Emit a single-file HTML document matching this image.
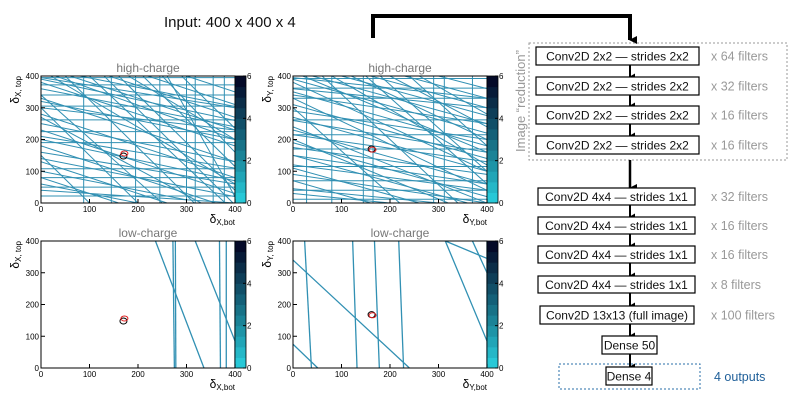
<!DOCTYPE html>
<html><head><meta charset="utf-8"><style>
html,body{margin:0;padding:0;background:#fff;}
svg{display:block;font-family:"Liberation Sans",Arial,sans-serif;}
</style></head><body>
<svg id="fig" width="806" height="403" viewBox="0 0 806 403">
<defs>
<marker id="ah" markerWidth="8" markerHeight="8" refX="4" refY="7" orient="auto" markerUnits="userSpaceOnUse">
<path d="M0,0 L8,0 L4,8 Z" fill="#000"/></marker>
<marker id="ahs" markerWidth="7" markerHeight="6" refX="3.5" refY="5" orient="auto" markerUnits="userSpaceOnUse">
<path d="M0,0 L7,0 L3.5,6 Z" fill="#000"/></marker>
</defs>
<g id="plots"></g>
<text x="164" y="27" font-size="15" fill="#111">Input: 400 x 400 x 4</text>
<path d="M373,38 L373,16 L630,16 L630,40" fill="none" stroke="#000" stroke-width="4" marker-end="url(#ah)"/>
<g id="net"></g>
</svg>
<script>
// ---- chart data (data coordinates, 0..400) ----
const tickLabels = [0,100,200,300,400];
const cbarTicks = [0,2,4,6];
const hcXHoriz = [395,372,340,305,262,225,190,108,80,50,22];
const hcXVert = [88,145,195,245,300,318,355,378];
const hcXDiag = [[0,380,400,180],[0,330,400,130],[0,280,400,80],[0,230,400,30],[0,180,360,0],[0,130,260,0],[0,80,160,0],[60,400,400,230],[140,400,400,270],[220,400,400,310],[300,400,400,350],[0,300,200,0],[50,400,316,0],[130,400,396,0],[210,400,400,115],[290,400,400,235],[0,150,100,0],[0,360,400,240],[0,250,400,130],[0,140,400,20],[80,400,400,304],[0,60,200,0],[20,400,400,60],[0,395,400,300],[100,400,380,0],[0,210,400,110],[250,400,400,160],[0,340,250,0],[0,320,400,200],[0,100,300,10],[30,400,400,200],[180,400,400,200],[0,270,330,0],[0,200,400,70],[0,40,400,0],[160,400,400,40],[0,390,400,260],[260,400,400,20],[0,160,400,60],[0,300,400,230]];
const hcYHoriz = [392,362,330,262,215,170,115,70,40,12];
const hcYVert = [28,80,145,165,290,312,370];
const hcYDiag = [[0,390,400,220],[0,350,400,180],[0,310,400,140],[0,270,400,100],[0,230,400,60],[0,190,400,20],[0,150,360,0],[0,110,260,0],[0,70,160,0],[40,400,400,250],[100,400,400,275],[160,400,400,300],[230,400,400,330],[300,400,400,360],[0,300,220,0],[60,400,340,0],[150,400,400,60],[240,400,400,180],[0,380,400,100],[0,240,400,0],[0,200,320,0],[0,330,400,40],[80,400,400,120],[0,120,400,40],[0,260,400,160],[120,400,400,200],[0,175,400,90],[0,45,300,0],[200,400,400,240],[0,360,400,300],[0,290,400,200],[0,90,400,0],[20,400,400,160],[0,340,400,250],[0,150,400,60],[260,400,400,280],[0,215,400,130],[180,400,400,100],[0,30,200,0],[0,395,400,330]];
const lcX = [[236,400,336,0],[272,400,275,0],[277,400,278,0],[368,400,370,0],[382,400,382,0],[318,400,400,85],[400,400,400,0]];
const lcY = [[24,400,38,0],[0,340,240,0],[0,75,51,0],[123,400,132,0],[168,400,178,0],[218,400,228,0],[314,400,400,85],[314,400,400,345],[370,400,400,300],[400,400,400,0]];
const markerBlack = [[170,148],[162,170],[170,148],[162,168]];
const markerRed = [[172,156],[164,168],[172,156],[164,166]];

const NS="http://www.w3.org/2000/svg";
function el(tag,attrs,parent){const e=document.createElementNS(NS,tag);for(const k in attrs)e.setAttribute(k,attrs[k]);parent.appendChild(e);return e;}
const plotsG=document.getElementById('plots');
const LINE="#3190b3";
function segs(h,v,d){const s=[];h.forEach(y=>s.push([0,y,400,y]));v.forEach(x=>s.push([x,0,x,400]));d.forEach(q=>s.push(q));return s;}
const panels=[
 {x0:41,y0:76,title:"high-charge",ax:"X",tracks:segs(hcXHoriz,hcXVert,hcXDiag),mk:0,w:1.0},
 {x0:293,y0:76,title:"high-charge",ax:"Y",tracks:segs(hcYHoriz,hcYVert,hcYDiag),mk:1,w:1.0},
 {x0:41,y0:241,title:"low-charge",ax:"X",tracks:lcX,mk:2,w:1.3},
 {x0:293,y0:241,title:"low-charge",ax:"Y",tracks:lcY,mk:3,w:1.3}
];
const W=194,H=127;
panels.forEach((p,i)=>{
 const g=el('g',{},plotsG);
 
 
 const sx=v=>p.x0+v/400*W, sy=v=>p.y0+H-v/400*H;
 const cp='cp'+i;
 const c=el('clipPath',{id:cp},g);el('rect',{x:p.x0,y:p.y0,width:W,height:H},c);
 const tg=el('g',{'clip-path':'url(#'+cp+')'},g);
 p.tracks.forEach(t=>{
  const l=el('line',{x1:sx(t[0]),y1:sy(t[1]),x2:sx(t[2]),y2:sy(t[3]),stroke:LINE,'stroke-width':p.w},tg);
  
  
 });
 const mb=markerBlack[p.mk], mr=markerRed[p.mk];
 const c1=el('ellipse',{cx:sx(mb[0]),cy:sy(mb[1]),rx:3.5,ry:3,fill:'none',stroke:'#000','stroke-width':1},g);
 
 
 const c2=el('ellipse',{cx:sx(mr[0]),cy:sy(mr[1]),rx:3.5,ry:2.5,fill:'none',stroke:'#e02020','stroke-width':1},g);
 
 
 el('rect',{x:p.x0,y:p.y0,width:W,height:H,fill:'none',stroke:'#000','stroke-width':1},g);
 const cbx=p.x0+W, cbw=11, n=12;
 for(let k=0;k<n;k++){
  const f=k/(n-1);
  const r=Math.round(40-36*f), gg=Math.round(200-190*f), b=Math.round(215-175*f);
  const rr=el('rect',{x:cbx,y:p.y0+H-(k+1)*H/n,width:cbw,height:H/n+0.5,fill:`rgb(${r},${gg},${b})`},g);
  
  
 }
 el('rect',{x:cbx,y:p.y0,width:cbw,height:H,fill:'none',stroke:'#000','stroke-width':0.8},g);
 cbarTicks.forEach(t=>{
  const y=p.y0+H-t/6*H;
  el('line',{x1:cbx+cbw-3,y1:y,x2:cbx+cbw,y2:y,stroke:'#000'},g);
  const tx=el('text',{x:cbx+cbw+1,y:y+3,'font-size':8,fill:'#000'},g);tx.textContent=t;
  
  
 });
 tickLabels.forEach(t=>{
  el('line',{x1:sx(t),y1:p.y0+H,x2:sx(t),y2:p.y0+H-4,stroke:'#000'},g);
  el('line',{x1:p.x0,y1:sy(t),x2:p.x0+4,y2:sy(t),stroke:'#000'},g);
  const a=el('text',{x:sx(t),y:p.y0+H+9,'font-size':8,'text-anchor':'middle',fill:'#000'},g);a.textContent=t;
  
  
  const b=el('text',{x:p.x0-2,y:sy(t)+3,'font-size':8,'text-anchor':'end',fill:'#000'},g);b.textContent=t;
  
  
 });
 const ti=el('text',{x:p.x0+W/2+10,y:p.y0-4,'font-size':12,'text-anchor':'middle',fill:'#777'},g);ti.textContent=p.title;
 
 
 const xl=el('text',{x:p.x0+W,y:p.y0+H+20,'font-size':12,'text-anchor':'end',fill:'#000'},g);
 xl.innerHTML='δ<tspan font-size="8" dy="2">'+p.ax+',bot</tspan>';
 
 
 const yl=el('text',{x:0,y:0,'font-size':12,'text-anchor':'end',fill:'#000',transform:`translate(${p.x0-22},${p.y0}) rotate(-90)`},g);
 yl.innerHTML='δ<tspan font-size="8" dy="2">'+p.ax+', top</tspan>';
 
 
});

const net=document.getElementById('net');
el('rect',{x:529,y:43,width:258,height:117,fill:'none',stroke:'#999','stroke-width':1,'stroke-dasharray':'2,2'},net);
const rl=el('text',{x:0,y:0,'font-size':13,'text-anchor':'middle',fill:'#999',transform:'translate(525,101) rotate(-90)'},net);
rl.textContent='Image “reduction”';


el('rect',{x:559,y:364,width:141,height:25,fill:'none',stroke:'#2a6fa8','stroke-width':1,'stroke-dasharray':'2,2'},net);
const boxes=[
 [536,47,163,18,"Conv2D 2x2 — strides 2x2","x 64 filters"],
 [536,77,163,18,"Conv2D 2x2 — strides 2x2","x 32 filters"],
 [536,106,163,18,"Conv2D 2x2 — strides 2x2","x 16 filters"],
 [536,136,163,18,"Conv2D 2x2 — strides 2x2","x 16 filters"],
 [538,188,157,17,"Conv2D 4x4 — strides 1x1","x 32 filters"],
 [538,217,157,17,"Conv2D 4x4 — strides 1x1","x 16 filters"],
 [538,246,157,17,"Conv2D 4x4 — strides 1x1","x 16 filters"],
 [538,276,157,17,"Conv2D 4x4 — strides 1x1","x 8 filters"],
 [540,306,154,18,"Conv2D 13x13 (full image)","x 100 filters"],
 [602,336,55,18,"Dense 50",""],
 [606,367,46,18,"Dense 4",""]
];
boxes.forEach((b,i)=>{
 const r=el('rect',{x:b[0],y:b[1],width:b[2],height:b[3],fill:'#fff',stroke:'#000','stroke-width':1.2},net);
 
 
 const t=el('text',{x:b[0]+b[2]/2,y:b[1]+b[3]/2+4.5,'font-size':12,'text-anchor':'middle',fill:'#111'},net);t.textContent=b[4];
 
 
 if(b[5]){const f=el('text',{x:711,y:b[1]+b[3]/2+4.5,'font-size':12.5,fill:'#999'},net);f.textContent=b[5];
  
  }
 if(i<boxes.length-1){
  const y1=b[1]+b[3], y2=boxes[i+1][1];
  const big=(i===3);
  const a=el('line',{x1:630,y1:y1+(big?6:0),x2:630,y2:y2,stroke:'#000','stroke-width':big?2.5:2,'marker-end':big?'url(#ah)':'url(#ahs)'},net);
  
  
 }
});
const o=el('text',{x:714,y:381,'font-size':12.5,fill:'#1f5f99'},net);o.textContent='4 outputs';


</script>
</body></html>
